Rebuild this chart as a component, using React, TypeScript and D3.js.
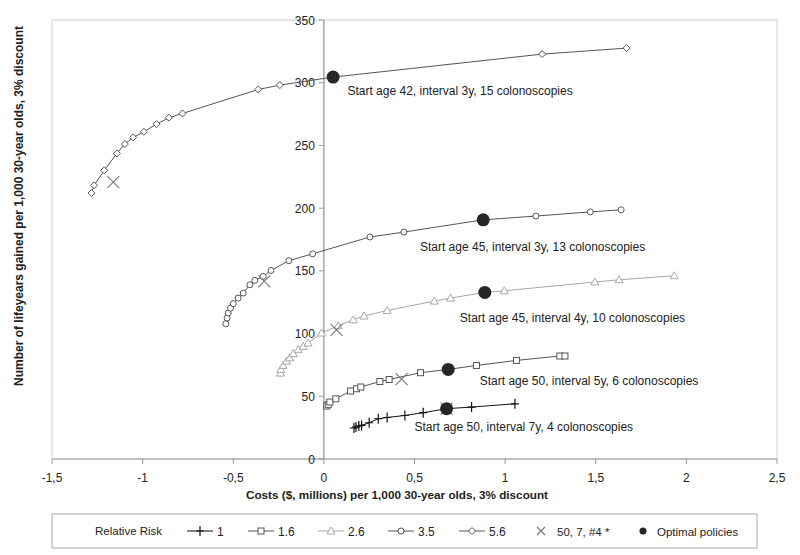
import React from "react";
import * as d3 from "d3";

type P = [number, number];

const rr1: P[] = [
  [0.166, 24.7], [0.177, 25.5], [0.193, 26.3], [0.208, 26.8], [0.25, 28.9], [0.3, 32.1],
  [0.349, 33.1], [0.447, 34.7], [0.548, 36.9], [0.677, 40.1], [0.815, 41.4], [1.054, 44.0],
];
const rr16: P[] = [
  [0.015, 42.2], [0.024, 43.3], [0.033, 45.4], [0.066, 48.0], [0.147, 54.2], [0.18, 56.0],
  [0.204, 57.4], [0.309, 61.8], [0.36, 63.4], [0.533, 68.8], [0.686, 71.4], [0.842, 74.6],
  [1.063, 78.6], [1.302, 82.1], [1.33, 82.1],
];
const rr26: P[] = [
  [-0.239, 68.5], [-0.237, 71.5], [-0.225, 74.5], [-0.206, 78.0], [-0.188, 80.6],
  [-0.169, 84.0], [-0.142, 87.2], [-0.114, 89.8], [-0.087, 92.5], [-0.013, 100.4],
  [0.079, 106.2], [0.162, 111.0], [0.222, 114.0], [0.349, 118.4], [0.609, 125.9],
  [0.699, 128.3], [0.888, 132.8], [0.995, 134.1], [1.495, 141.1], [1.629, 142.9], [1.933, 146.1],
];
const rr35: P[] = [
  [-0.541, 107.8], [-0.534, 112.4], [-0.528, 116.4], [-0.515, 120.3], [-0.5, 123.8],
  [-0.473, 128.3], [-0.445, 132.3], [-0.408, 138.9], [-0.381, 142.4], [-0.335, 145.6],
  [-0.292, 150.3], [-0.193, 158.1], [-0.062, 163.6], [0.254, 177.0], [0.441, 180.9],
  [0.879, 190.7], [1.17, 193.7], [1.47, 197.0], [1.64, 198.7],
];
const rr56: P[] = [
  [-1.282, 212.0], [-1.268, 218.2], [-1.212, 230.1], [-1.142, 243.6], [-1.098, 251.1],
  [-1.052, 256.4], [-0.993, 260.9], [-0.923, 267.0], [-0.855, 272.1], [-0.78, 275.5],
  [-0.362, 294.6], [-0.243, 298.1], [0.051, 304.5], [1.204, 322.8], [1.67, 327.6],
];
const crossPts: P[] = [
  [-1.162, 220.8], [-0.329, 141.6], [0.07, 103.0], [0.429, 63.7], [0.677, 40.1],
];
const optimalPts: P[] = [
  [0.051, 304.5], [0.879, 190.7], [0.888, 132.8], [0.686, 71.4], [0.677, 40.1],
];
const policyLabels = [
  "Start age 42, interval 3y, 15 colonoscopies",
  "Start age 45, interval 3y, 13 colonoscopies",
  "Start age 45, interval 4y, 10 colonoscopies",
  "Start age 50, interval 5y, 6 colonoscopies",
  "Start age 50, interval 7y, 4 colonoscopies",
];
const labelAnchors: P[] = [
  [0.13, 290.5], [0.53, 165.5], [0.75, 109.5], [0.86, 59], [0.5, 22.5],
];
const xTicks = [-1.5, -1, -0.5, 0, 0.5, 1, 1.5, 2, 2.5];
const yTicks = [0, 50, 100, 150, 200, 250, 300, 350];
const seriesNames = ["1", "1.6", "2.6", "3.5", "5.6"];

const FONT = "'Liberation Sans', Arial, sans-serif";

const x = d3.scaleLinear().domain([-1.5, 2.5]).range([52, 777]);
const y = d3.scaleLinear().domain([0, 350]).range([459, 20]);
const line = d3.line<P>().x((d) => x(d[0])).y((d) => y(d[1]));

const styles = [
  { color: "#111", kind: "plus" },
  { color: "#555", kind: "square" },
  { color: "#a8a8a8", kind: "triangle" },
  { color: "#555", kind: "circle" },
  { color: "#555", kind: "diamond" },
];

function Marker({ kind, color, cx, cy, s = 6 }: { kind: string; color: string; cx: number; cy: number; s?: number }) {
  if (kind === "plus")
    return <path d={`M${cx - 4},${cy}H${cx + 4}M${cx},${cy - 5}V${cy + 5}`} stroke={color} strokeWidth={1.2} fill="none" />;
  if (kind === "square")
    return <rect x={cx - 3} y={cy - 3} width={6} height={6} fill="#fff" stroke={color} strokeWidth={1} />;
  if (kind === "triangle")
    return <path d={`M${cx},${cy - 4}L${cx + 4},${cy + 3}L${cx - 4},${cy + 3}Z`} fill="#fff" stroke={color} strokeWidth={1} />;
  if (kind === "circle")
    return <circle cx={cx} cy={cy} r={3} fill="#fff" stroke={color} strokeWidth={1} />;
  if (kind === "diamond")
    return <path d={`M${cx},${cy - 3.5}L${cx + 3.5},${cy}L${cx},${cy + 3.5}L${cx - 3.5},${cy}Z`} fill="#fff" stroke={color} strokeWidth={1} />;
  if (kind === "cross")
    return <path d={`M${cx - s},${cy - s}L${cx + s},${cy + s}M${cx + s},${cy - s}L${cx - s},${cy + s}`} stroke="#777" strokeWidth={1.1} fill="none" />;
  return <circle cx={cx} cy={cy} r={6.5} fill="#262626" />;
}

export default function App() {
  const series = [rr1, rr16, rr26, rr35, rr56];
  const fmt = (v: number) => String(v).replace(".", ",");
  const legendItems = [
    { x: 187, label: seriesNames[0] },
    { x: 248, label: seriesNames[1] },
    { x: 318, label: seriesNames[2] },
    { x: 388, label: seriesNames[3] },
    { x: 459, label: seriesNames[4] },
  ];
  return (
    <svg width={800} height={555} style={{ position: "absolute", left: 0, top: 0, background: "#fff" }} fontFamily={FONT}>
      <rect x={0} y={0} width={800} height={555} fill="#fff" />
      {/* plot frame */}
      <rect x={52} y={20} width={725} height={439} fill="none" stroke="#cfcfcf" strokeWidth={1} />
      {/* x axis */}
      <line x1={52} x2={777} y1={y(0)} y2={y(0)} stroke="#999" strokeWidth={1.2} />
      {xTicks.map((t) => (
        <g key={"xt" + t}>
          <line x1={x(t)} x2={x(t)} y1={y(0)} y2={y(0) + 5} stroke="#999" />
          <text x={x(t)} y={y(0) + 23} textAnchor="middle" fontSize={12} fill="#222">{fmt(t)}</text>
        </g>
      ))}
      {/* y axis */}
      <line x1={x(0)} x2={x(0)} y1={y(350)} y2={y(0)} stroke="#aaa" strokeWidth={1.6} />
      {yTicks.map((t) => (
        <g key={"yt" + t}>
          <line x1={x(0) - 5} x2={x(0)} y1={y(t)} y2={y(t)} stroke="#999" />
          <text x={x(0) - 9} y={y(t) + 4.5} textAnchor="end" fontSize={12} fill="#222">{t}</text>
        </g>
      ))}
      {/* series */}
      {series.map((s, i) => (
        <g key={"s" + i}>
          <path d={line(s) || ""} fill="none" stroke={styles[i].color} strokeWidth={1} />
          {s.map((p, j) => (
            <Marker key={j} kind={styles[i].kind} color={styles[i].color} cx={x(p[0])} cy={y(p[1])} />
          ))}
        </g>
      ))}
      {crossPts.map((p, i) => (
        <Marker key={"c" + i} kind="cross" color="#777" cx={x(p[0])} cy={y(p[1])} />
      ))}
      {optimalPts.map((p, i) => (
        <Marker key={"o" + i} kind="dot" color="#262626" cx={x(p[0])} cy={y(p[1])} />
      ))}
      {policyLabels.map((l, i) => (
        <text key={"l" + i} x={x(labelAnchors[i][0])} y={y(labelAnchors[i][1])} fontSize={12} fill="#222">{l}</text>
      ))}
      {/* axis titles */}
      <text x={397} y={499} textAnchor="middle" fontSize={11.5} fontWeight="bold" fill="#222" textLength={302} lengthAdjust="spacingAndGlyphs">
        Costs ($, millions) per 1,000 30-year olds, 3% discount
      </text>
      <text transform="translate(23,206) rotate(-90)" textAnchor="middle" fontSize={12} fontWeight="bold" fill="#222" textLength={360} lengthAdjust="spacingAndGlyphs">
        Number of lifeyears gained per 1,000 30-year olds, 3% discount
      </text>
      {/* legend */}
      <rect x={52} y={514} width={705} height={34} fill="#fff" stroke="#aaa" strokeWidth={1} />
      <text x={95} y={535} fontSize={11.5} fill="#222">Relative Risk</text>
      {legendItems.map((it, i) => (
        <g key={"lg" + i}>
          <line x1={it.x} x2={it.x + 26} y1={531} y2={531} stroke={styles[i].color} strokeWidth={1} />
          <Marker kind={styles[i].kind} color={styles[i].color} cx={it.x + 13} cy={531} />
          <text x={it.x + 30} y={535.5} fontSize={12} fill="#222">{it.label}</text>
        </g>
      ))}
      <Marker kind="cross" color="#777" cx={541} cy={531} s={4} />
      <text x={557} y={535.5} fontSize={11.5} fill="#222">50, 7, #4 *</text>
      <circle cx={643} cy={531} r={3.5} fill="#262626" />
      <text x={657} y={535.5} fontSize={11.5} fill="#222">Optimal policies</text>
    </svg>
  );
}
